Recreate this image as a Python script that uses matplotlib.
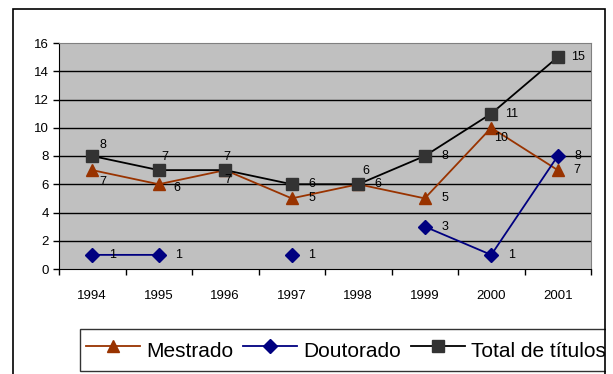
import numpy as np
import matplotlib.pyplot as plt
from matplotlib.patches import Rectangle

plt.rcParams['font.family'] = ['Liberation Sans', 'DejaVu Sans']

# chart data
anos = ['1994', '1995', '1996', '1997', '1998', '1999', '2000', '2001']
mestrado = [7, 6, 7, 5, 6, 5, 10, 7]
doutorado = [1, 1, None, 1, None, 3, 1, 8]
total = [8, 7, 7, 6, 6, 8, 11, 15]

# label offsets (pixels) as placed in the original
off_mest = [(11, -12), (18, -4), (3, -10), (20, 0), (20, 0), (20, 0), (10, -10), (19, 0)]
off_dout = [(20, 0)] * 8
off_total = [(11, 11), (6, 13), (2, 13), (20, 0), (8, 13), (20, 0), (20, 0), (20, 0)]

x = np.arange(len(anos))
dout = np.array([np.nan if v is None else v for v in doutorado], dtype=float)

fig = plt.figure(figsize=(6.13, 3.74), dpi=100)
ax = fig.add_axes([59 / 613, 1 - 269 / 374, (591 - 59) / 613, (269 - 43) / 374])
ax.set_facecolor('#C0C0C0')

ax.plot(x, mestrado, color='#993300', lw=1.3, marker='^', ms=9,
        mfc='#993300', mec='#993300', label='Mestrado', zorder=3)
ax.plot(x, dout, color='#000080', lw=1.3, marker='D', ms=7,
        mfc='#000080', mec='#000080', label='Doutorado', zorder=4)
ax.plot(x, total, color='black', lw=1.3, marker='s', ms=8,
        mfc='#333333', mec='#333333', label='Total de títulos', zorder=5)

for vals, offs in [(mestrado, off_mest), (doutorado, off_dout), (total, off_total)]:
    for i, v in enumerate(vals):
        if v is None:
            continue
        ax.annotate(str(v), (x[i], v), xytext=offs[i], textcoords='offset pixels',
                    ha='center', va='center', fontsize=9, zorder=6)

ax.set_xlim(-0.5, len(anos) - 0.5)
ax.set_ylim(0, 16)
ax.set_yticks(range(0, 17, 2))
ax.set_xticks(x)
ax.set_xticklabels(anos)
ax.set_xticks(np.arange(-0.5, len(anos), 1), minor=True)
ax.tick_params(axis='x', which='major', length=0, pad=15, labelsize=9.5)
ax.tick_params(axis='x', which='minor', length=4, width=1, color='black')
ax.tick_params(axis='y', length=4.5, width=1, pad=3, labelsize=9.5)

for yv in range(2, 16, 2):
    ax.axhline(yv, color='black', lw=1, zorder=1)

ax.spines['left'].set_color('black')
ax.spines['bottom'].set_color('black')
ax.spines['top'].set_color('#808080')
ax.spines['right'].set_color('#808080')

leg = fig.legend(loc='upper left', bbox_to_anchor=(80 / 613, 1 - 329 / 374),
                 ncol=3, fontsize=15, frameon=True, fancybox=False,
                 edgecolor='black', handlelength=2.6, handletextpad=0.3,
                 columnspacing=0.45, borderpad=0.3, borderaxespad=0,
                 handleheight=1.8)
leg.get_frame().set_linewidth(1)

# clip area right of the chart frame, then draw the frame
fig.patches.append(Rectangle((606 / 613, 0), 1, 1, transform=fig.transFigure,
                             facecolor='white', edgecolor='none', zorder=10))
fig.patches.append(Rectangle((12.5 / 613, -0.05), (605 - 12.5) / 613, 1.05 - 9 / 374,
                             transform=fig.transFigure, facecolor='none',
                             edgecolor='black', lw=1.2, zorder=11))

fig.savefig('out.png', dpi=100)
